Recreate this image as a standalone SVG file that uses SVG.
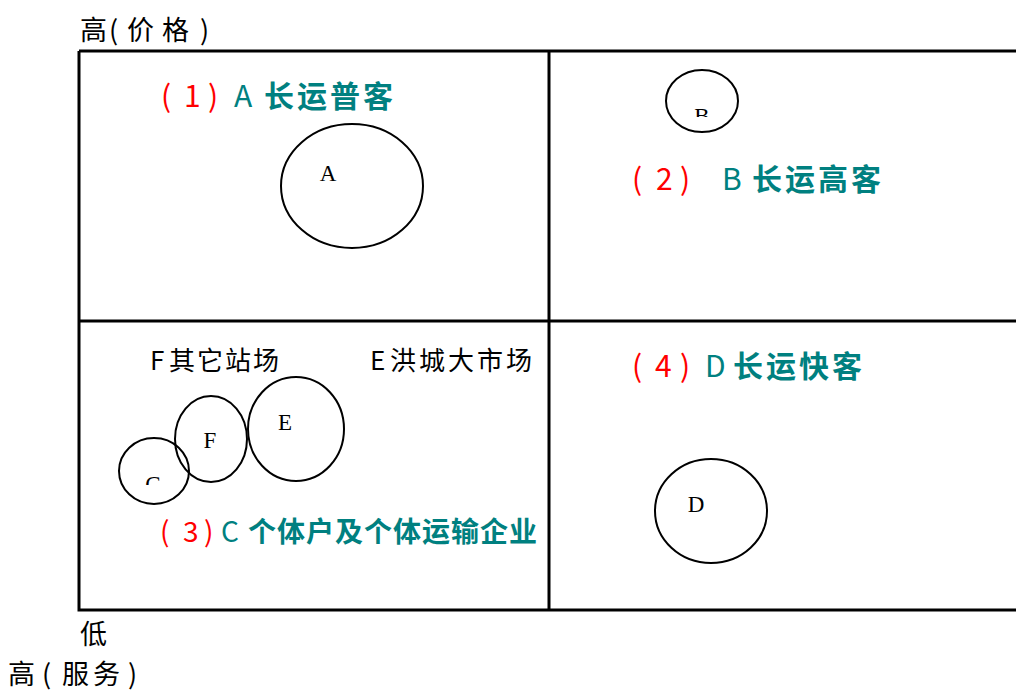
<svg xmlns="http://www.w3.org/2000/svg" width="1016" height="690" viewBox="0 0 1016 690">
<style>
.cjk{font-family:"Noto Sans CJK SC","Noto Sans",sans-serif}
.ax{font-size:27px;fill:#000}
.lab{font-size:30px}
.red{fill:#ff0000}
.teal{fill:#008080;font-weight:bold}
.tl{fill:#008080}
.nd{fill:none;stroke:#000;stroke-width:2}
.lt{font-family:"Liberation Serif",serif;font-size:23px;fill:#000}
.grid{fill:none;stroke:#000;stroke-width:3}
</style>
<defs>
<clipPath id="clipB"><rect x="680" y="90" width="50" height="27"/></clipPath>
<clipPath id="clipC"><rect x="130" y="455" width="50" height="30"/></clipPath>
</defs>
<rect width="1016" height="690" fill="#fff"/>
<g id="grid">
<path class="grid" d="M79 51H1020M79 51V610H1020M549 51V610M79 321H1020"/>
</g>
<g id="axes" class="cjk ax">
<text y="40"><tspan x="80">高</tspan><tspan x="109">(</tspan><tspan x="127" letter-spacing="8">价格</tspan><tspan x="200">)</tspan></text>
<text x="80" y="644">低</text>
<text y="684"><tspan x="8">高</tspan><tspan x="42">(</tspan><tspan x="62" letter-spacing="4">服务</tspan><tspan x="128">)</tspan></text>
</g>
<g id="label1" class="cjk lab">
<text y="107"><tspan class="red" x="161">(</tspan><tspan class="red" x="184">1</tspan><tspan class="red" x="208">)</tspan><tspan class="tl" x="234">A</tspan><tspan class="teal" x="264" letter-spacing="3">长运普客</tspan></text>
</g>
<g id="label2" class="cjk lab">
<text y="190"><tspan class="red" x="632">(</tspan><tspan class="red" x="656">2</tspan><tspan class="red" x="680">)</tspan><tspan class="tl" x="722">B</tspan><tspan class="teal" x="752" letter-spacing="3">长运高客</tspan></text>
</g>
<g id="label3" class="cjk">
<text y="542" font-size="28"><tspan class="red" x="160">(</tspan><tspan class="red" x="183">3</tspan><tspan class="red" x="204">)</tspan><tspan class="tl" x="221">C</tspan><tspan class="teal" x="248" letter-spacing="1">个体户及个体运输企业</tspan></text>
</g>
<g id="label4" class="cjk lab">
<text y="377"><tspan class="red" x="632">(</tspan><tspan class="red" x="655">4</tspan><tspan class="red" x="680">)</tspan><tspan class="tl" x="705">D</tspan><tspan class="teal" x="733" letter-spacing="3">长运快客</tspan></text>
</g>
<g id="labelF" class="cjk">
<text x="150" y="370" font-size="26" fill="#000">F <tspan x="169" letter-spacing="2">其它站场</tspan></text>
</g>
<g id="labelE" class="cjk">
<text x="370" y="370" font-size="26" fill="#000">E <tspan x="390" letter-spacing="3">洪城大市场</tspan></text>
</g>
<g id="nodeA"><ellipse class="nd" cx="352" cy="186" rx="71" ry="62"/><text class="lt" x="328" y="181" text-anchor="middle">A</text></g>
<g id="nodeB"><ellipse class="nd" cx="702" cy="101" rx="36" ry="31"/><text class="lt" x="702" y="124" text-anchor="middle" clip-path="url(#clipB)">B</text></g>
<g id="nodeE"><ellipse class="nd" cx="296" cy="429" rx="48" ry="52"/><text class="lt" x="285" y="430" text-anchor="middle">E</text></g>
<g id="nodeF"><ellipse class="nd" cx="211" cy="439" rx="36" ry="43"/><text class="lt" x="210" y="448" text-anchor="middle">F</text></g>
<g id="nodeC"><ellipse class="nd" cx="154" cy="471" rx="35" ry="33"/><text class="lt" x="153" y="492" text-anchor="middle" clip-path="url(#clipC)">C</text></g>
<g id="nodeD"><ellipse class="nd" cx="711" cy="511" rx="56" ry="52"/><text class="lt" x="696" y="512" text-anchor="middle">D</text></g>
<g id="connectors"></g>
</svg>
